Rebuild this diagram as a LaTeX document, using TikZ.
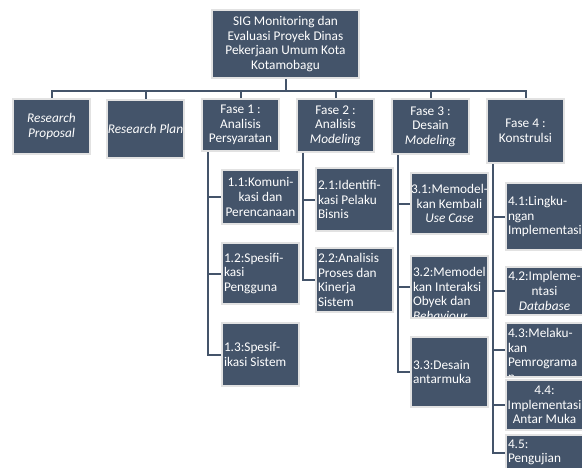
\documentclass[tikz,border=0pt]{standalone}
\usepackage{fontspec}
\setmainfont{Carlito}
\usepackage{tikz}
\usetikzlibrary{calc}
\definecolor{slate}{RGB}{68,84,106}
\definecolor{rim}{RGB}{226,226,226}
\newcommand\boxfont{\fontsize{13.3}{14.6}\selectfont}
\def\dropamt{0}
\tikzset{
  task/.style={fill=slate, draw=rim, line width=2pt, minimum width=77pt, inner sep=0pt, drop=0},
  drop/.code={\def\dropamt{#1}},
  inbox/.style={fill=none, draw=none, text=white, inner sep=0pt, minimum width=0pt, minimum height=0pt, font=\boxfont},
  txtc/.style 2 args={task, minimum height=#1pt,
    path picture={\node[inbox, align=center]
      at ([yshift=-\dropamt pt]path picture bounding box.center) {#2};}},
  txtl/.style 2 args={task, minimum height=#1pt,
    path picture={\node[inbox, align=left, anchor=west]
      at ([xshift=1pt, yshift=-\dropamt pt]path picture bounding box.west) {#2};}},
  link/.style={draw=slate, line width=2pt},
}
\begin{document}
\begin{tikzpicture}[x=1pt, y=-1pt]
			%%%%% START %%%%%
			\useasboundingbox[fill=white] (0,0) rectangle (582,467);
			
			\node[txtc={68}{SIG Monitoring dan\\Evaluasi Proyek Dinas\\Pekerjaan Umum Kota\\Kotamobagu}, minimum width=147pt] (root) at (285.5,44) {};
			
			\node[txtc={55}{\textit{Research}\\\textit{Proposal}}] (rp) at (51.5,126.5) {};
			\node[txtc={58}{\textit{Research Plan}}] (rplan) at (145.5,129) {};
			\node[txtc={52}{Fase 1 :\\Analisis\\Persyaratan}] (f1) at (240.5,125) {};
			\node[txtc={53}{Fase 2 :\\Analisis\\\textit{Modeling}}] (f2) at (335.5,125.5) {};
			\node[txtc={55}{Fase 3 :\\Desain\\\textit{Modeling}}] (f3) at (430.5,126.5) {};
			\node[txtc={64}{Fase 4 :\\Konstrulsi}] (f4) at (525.5,131) {};
			
			\node[txtc={54}{1.1:Komuni-\\kasi dan\\Perencanaan}] (t11) at (260.5,197) {};
			\node[txtl={61}{1.2:Spesifi-\\kasi\\Pengguna}] (t12) at (260.5,273.5) {};
			\node[txtl={63}{1.3:Spesif-\\ikasi Sistem}] (t13) at (260.5,354.5) {};
			
			\node[txtl={63}{2.1:Identifi-\\kasi Pelaku\\Bisnis}] (t21) at (354.5,199.5) {};
			\node[txtl={64}{2.2:Analisis\\Proses dan\\Kinerja\\Sistem}] (t22) at (354.5,280) {};
			
			\node[txtc={61}{3.1:Memodel-\\kan Kembali\\\textit{Use Case}}] (t31) at (449.5,203.5) {};
			\node[txtl={62}{3.2:Memodel\\kan Interaksi\\Obyek dan\\\textit{Behaviour}}, drop=7] (t32) at (449.5,287) {};
			\node[txtl={70}{3.3:Desain\\antarmuka}] (t33) at (449.5,372) {};
			
			\node[txtl={67}{4.1:Lingku-\\ngan\\Implementasi}] (t41) at (544.5,216.5) {};
			\node[txtc={48}{4.2:Impleme-\\ntasi\\\textit{Database}}] (t42) at (544.5,291) {};
			\node[txtl={54}{4.3:Melaku-\\kan\\Pemrograma\\n}, drop=5] (t43) at (544.5,350) {};
			\node[txtc={50}{4.4:\\Implementasi\\Antar Muka}] (t44) at (544.5,405) {};
			\node[txtl={35}{4.5:\\Pengujian}] (t45) at (544.5,452.5) {};
			
			% tree lines
			\foreach \ph in {rp,rplan,f1,f2,f3,f4}
				\draw[link] (root.south) -- ++(0,12) -| (\ph.north);
			\foreach \ph/\kid in {f1/t11,f1/t12,f1/t13,f2/t21,f2/t22,f3/t31,f3/t32,f3/t33,f4/t41,f4/t42,f4/t43,f4/t44,f4/t45}
				\draw[link] ([xshift=7pt]\ph.south west) |- (\kid.west);
			
			%%%%% END %%%%%
\end{tikzpicture}
\end{document}
